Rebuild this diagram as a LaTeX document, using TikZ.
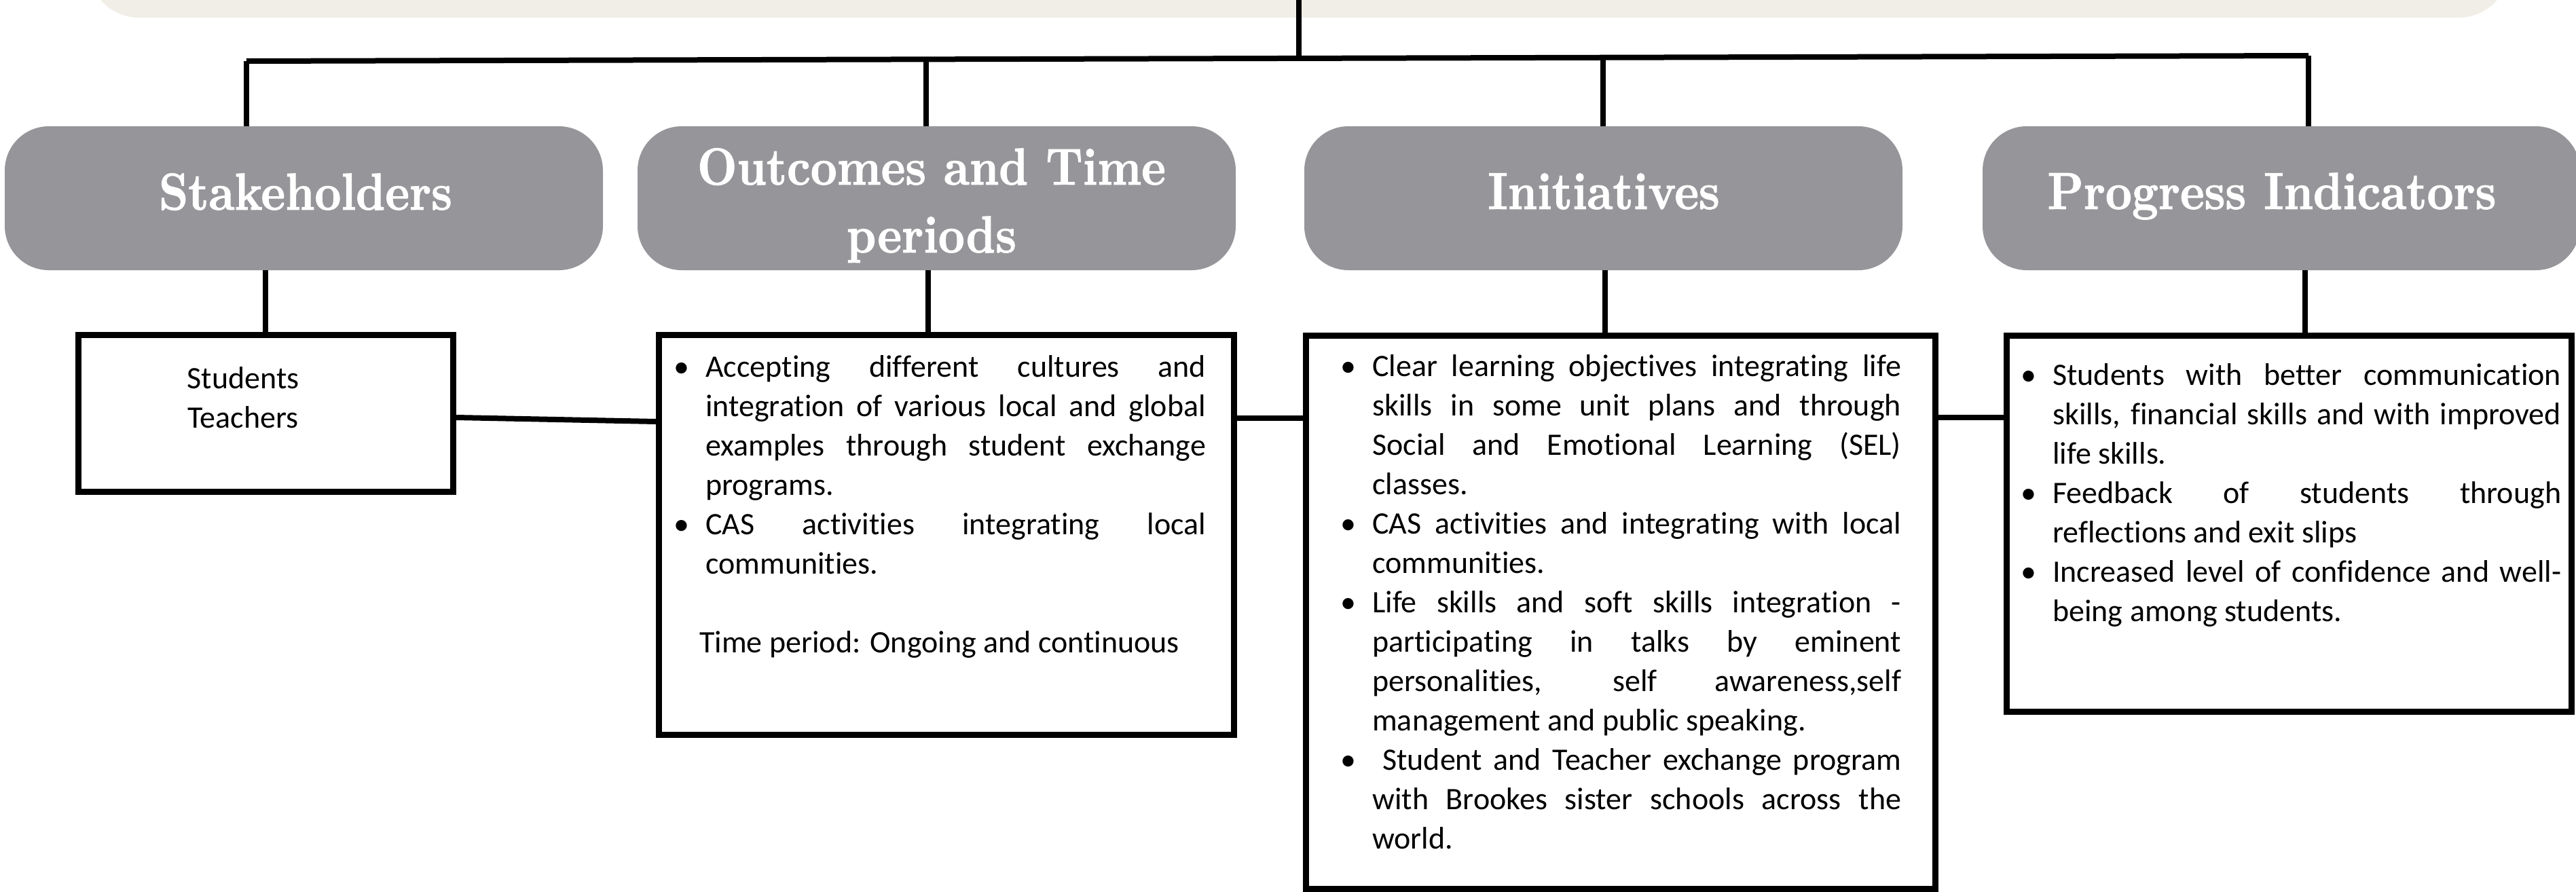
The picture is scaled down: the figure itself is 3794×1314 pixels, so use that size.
\documentclass[tikz,border=0pt]{standalone}
\usepackage{fontspec}
\newfontfamily\headfont{lmroman10-bold.otf}[FakeStretch=0.88, FakeBold=1.2]
\newfontfamily\bodyfont{Carlito}[Ligatures=NoCommon]
\definecolor{bannerbg}{RGB}{241,238,231}
\definecolor{headgray}{RGB}{150,150,154}

% justified body text: lines are broken by hand, spaces stretch freely
\newcommand\setupjust{%
  \spaceskip=\fontdimen2\font plus 400pt minus \fontdimen4\font
  \tolerance=10000 \hbadness=10000 \hyphenpenalty=10000 \parindent=0pt}
% bulleted paragraph with hanging indent
\newcommand\pointitem[1][49pt]{\par\noindent\hangindent=#1\hangafter=1
  \makebox[#1][l]{\hspace{2pt}\textbullet}\ignorespaces}

\begin{document}
\begin{tikzpicture}[x=1pt,y=-1pt,
  bannerbox/.style={fill=bannerbg, rounded corners=75pt, minimum width=3566pt,
    minimum height=252pt, inner sep=0pt, outer sep=0pt},
  headbox/.style={fill=headgray, rounded corners=65pt, minimum width=881pt,
    minimum height=212pt, inner sep=0pt, outer sep=0pt},
  detailbox/.style={draw=black, fill=white, line width=9pt, inner sep=0pt},
  title/.style={text=white, inner sep=0pt, anchor=base,
    font=\headfont\fontsize{77}{100}\selectfont},
  bodynode/.style={inner sep=0pt, anchor=base west, text=black,
    font=\bodyfont\fontsize{46}{58}\selectfont},
  link/.style={draw=black, line width=8pt}]

\useasboundingbox (0,0) rectangle (3794,1314);
\clip (0,0) rectangle (3794,1314);

% banner across the top
\node[bannerbox] (banner) at (1913,-100) {};

% heading boxes
\node[headbox] (g1) at (447.5,292) {};
\node[headbox] (g2) at (1379.5,292) {};
\node[headbox] (g3) at (2361.5,292) {};
\node[headbox, minimum width=880pt] (g4) at (3360,292) {};

\node[title] (t1) at (450,309) {Stakeholders};
\node[title] (t2) at (1372,272) {\parbox[t]{800pt}{\centering Outcomes and Time\\periods}};
\node[title] (t3) at (2362,308) {Initiatives};
\node[title] (t4) at (3346,308) {Progress Indicators};

% detail boxes
\node[detailbox, minimum width=552pt, minimum height=231pt] (w1) at (391.5,609) {};
\node[detailbox, minimum width=847pt, minimum height=589pt] (w2) at (1394,788) {};
\node[detailbox, minimum width=927pt, minimum height=815pt] (w3) at (2387,902) {};
\node[detailbox, minimum width=832pt, minimum height=554pt] (w4) at (3371.5,771.5) {};

% connectors: banner to bus, bus to headings
\coordinate (busL) at (363,90);
\coordinate (busR) at (3400,82);
\coordinate (d2) at (1364,88);
\coordinate (d3) at (2361,86);
\coordinate (topdrop) at (1913,86);
\draw[link] (banner.south) ++(0,-30) -- (topdrop);
\draw[link] (busL) -- (busR);
\draw[link] (busL) -- (busL |- g1.north);
\draw[link] (d2) -- (d2 |- g2.north);
\draw[link] (d3) -- (d3 |- g3.north);
\draw[link] (busR) -- (busR |- g4.north);

% headings to detail boxes
\coordinate (v1) at (391,0);
\coordinate (v2) at (1367,0);
\coordinate (v3) at (2364,0);
\coordinate (v4) at (3395,0);
\draw[link] (g1.south -| v1) -- (w1.north -| v1);
\draw[link] (g2.south -| v2) -- (w2.north -| v2);
\draw[link] (g3.south -| v3) -- (w3.north -| v3);
\draw[link] (g4.south -| v4) -- (w4.north -| v4);

% links between detail boxes
\coordinate (h1) at (0,615);
\coordinate (h1b) at (0,621);
\coordinate (h2) at (0,616);
\coordinate (h3) at (0,615);
\draw[link] (w1.east |- h1) -- (w2.west |- h1b);
\draw[link] (w2.east |- h2) -- (w3.west |- h2);
\draw[link] (w3.east |- h3) -- (w4.west |- h3);

% box contents
\node[bodynode, anchor=base] (s1) at (358,572)
  {\parbox[t]{300pt}{\centering Students\\Teachers}};

\node[bodynode] (s2) at (990,555) {\parbox[t]{786pt}{\setupjust
  \pointitem Accepting different cultures and\linebreak
  integration of various local and global\linebreak
  examples through student exchange\linebreak
  programs.
  \pointitem CAS activities integrating local\linebreak
  communities.
  \par\mbox{}\par\noindent\hspace*{40pt}Time period: Ongoing and continuous}};

\node[bodynode] (s3) at (1972,554) {\parbox[t]{828pt}{\setupjust
  \pointitem Clear learning objectives integrating life\linebreak
  skills in some unit plans and through\linebreak
  Social and Emotional Learning (SEL)\linebreak
  classes.
  \pointitem CAS activities and integrating with local\linebreak
  communities.
  \pointitem Life skills and soft skills integration -\linebreak
  participating in talks by eminent\linebreak
  personalities, self awareness,self\linebreak
  management and public speaking.
  \pointitem\hspace*{15pt}Student and Teacher exchange program\linebreak
  with Brookes sister schools across the\linebreak
  world.}};

\node[bodynode] (s4) at (2974,567) {\parbox[t]{798pt}{\setupjust
  \pointitem Students with better communication\linebreak
  skills, financial skills and with improved\linebreak
  life skills.
  \pointitem Feedback of students through\linebreak
  reflections and exit slips
  \pointitem Increased level of confidence and well-\linebreak
  being among students.}};

\end{tikzpicture}
\end{document}
